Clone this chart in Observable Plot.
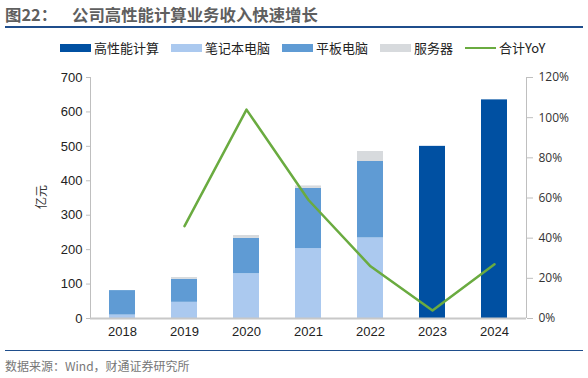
<!DOCTYPE html>
<html><head><meta charset="utf-8">
<script src="https://cdn.jsdelivr.net/npm/d3@7"></script>
<script src="https://cdn.jsdelivr.net/npm/@observablehq/plot@0.6"></script>
<style>
body{margin:0;background:#fff;font-family:"Liberation Sans","Noto Sans CJK SC",sans-serif;}
#wrap{position:relative;width:588px;height:378px;overflow:hidden;}
#title{position:absolute;left:5px;top:2px;font-family:"Noto Sans CJK SC",sans-serif;font-weight:bold;font-size:16.4px;color:#5f5f5f;white-space:nowrap;}
#title span.h{display:inline-block;width:67px;}
#tline{position:absolute;left:5px;top:26px;width:578px;height:2px;background:#1f4e8c;}
#legend{position:absolute;left:60px;top:38px;display:flex;align-items:center;font-family:"Noto Sans CJK SC",sans-serif;font-size:13px;color:#222;white-space:nowrap;}
#legend .it{display:flex;align-items:center;margin-right:12px;}
#legend .sw{width:31px;height:8px;margin-right:3px;}
#legend .ln{width:31px;height:2px;margin-right:3px;}
#chart{position:absolute;left:0;top:60px;}
#fline{position:absolute;left:5px;top:350px;width:578px;height:1px;background:#1f4e8c;}
#source{position:absolute;left:5px;top:357px;font-family:"Noto Sans CJK SC",sans-serif;font-size:12px;color:#777;white-space:nowrap;}
#ylab{position:absolute;left:29px;top:188px;transform:rotate(-90deg);font-family:"Noto Sans CJK SC",sans-serif;font-size:12px;line-height:18px;color:#333;}
</style></head>
<body>
<div id="wrap">
  <div id="title"><span class="h">图22：</span>公司高性能计算业务收入快速增长</div>
  <div id="tline"></div>
  <div id="legend"></div>
  <div id="chart"></div>
  <div id="ylab">亿元</div>
  <div id="fline"></div>
  <div id="source">数据来源：Wind，财通证券研究所</div>
</div>
<script>
const years = ["2018","2019","2020","2021","2022","2023","2024"];
const seriesNames = ["高性能计算","笔记本电脑","平板电脑","服务器"];
const hpc =      [0, 0, 0, 0, 0, 500, 635];
const laptop =   [10, 47, 130, 203, 234, 0, 0];
const tablet =   [71, 67, 103, 175, 222, 0, 0];
const server =   [0, 5, 8, 7, 29, 0, 0];
const yoyYears = ["2019","2020","2021","2022","2023","2024"];
const yoy =      [46, 104, 59, 26, 4, 27];
const leftTicks = [0,100,200,300,400,500,600,700];
const rightTicks = [0,20,40,60,80,100,120];
const colors = ["#0050a2","#abc9ef","#5f9bd4","#d7dadd"];
const lineColor = "#6aab40";
const yoyLabel = "合计YoY";

const yMax = 700, pMax = 120;
const seriesVals = [hpc, laptop, tablet, server];
const long = [];
seriesNames.forEach((s, si) => years.forEach((y, i) => {
  if (seriesVals[si][i] > 0) long.push({year: y, series: s, value: seriesVals[si][i]});
}));
const lineData = yoyYears.map((y, i) => ({year: y, v: yoy[i] * yMax / pMax}));

// legend
const lg = document.getElementById("legend");
seriesNames.forEach((s, i) => {
  const d = document.createElement("div"); d.className = "it";
  d.innerHTML = `<div class="sw" style="background:${colors[i]}"></div>${s}`;
  lg.appendChild(d);
});
{
  const d = document.createElement("div"); d.className = "it";
  d.innerHTML = `<div class="ln" style="background:${lineColor}"></div>${yoyLabel}`;
  lg.appendChild(d);
}

const edges = (index, scales, values, dim) => {
  const g = d3.create("svg:g").attr("stroke", "#bfbfbf").attr("stroke-width", 1);
  const x0 = dim.marginLeft, x1 = dim.width - dim.marginRight;
  const yT = dim.marginTop, yB = dim.height - dim.marginBottom;
  g.append("line").attr("x1", x0 + 0.5).attr("x2", x0 + 0.5).attr("y1", yT).attr("y2", yB);
  g.append("line").attr("x1", x1 + 0.5).attr("x2", x1 + 0.5).attr("y1", yT).attr("y2", yB);
  return g.node();
};

const chart = Plot.plot({
  width: 588, height: 285,
  marginLeft: 90, marginRight: 62, marginTop: 17, marginBottom: 27,
  style: {fontFamily: "Liberation Sans, sans-serif", fontSize: "13px", color: "#222", background: "transparent"},
  x: {domain: years, paddingInner: 0.58, paddingOuter: 0.29, label: null},
  y: {domain: [0, yMax], label: null},
  color: {domain: seriesNames, range: colors},
  marks: [
    edges,
    Plot.barY(long, {x: "year", y: "value", fill: "series", order: seriesNames}),
    Plot.ruleY([0], {stroke: "#c8c8c8", strokeWidth: 2}),
    Plot.line(lineData, {x: "year", y: "v", stroke: lineColor, strokeWidth: 2.5}),
    Plot.axisY(leftTicks, {anchor: "left", tickSize: 4, tickPadding: 4, stroke: "#bfbfbf", fill: "#222", fontSize: 13, label: null}),
    Plot.axisY(rightTicks.map(p => p * yMax / pMax), {anchor: "right", tickSize: 6, tickPadding: 6, stroke: "#bfbfbf", fill: "#333", fontSize: 12, fontFamily: "Open Sans, sans-serif", tickFormat: d => Math.round(d * pMax / yMax) + "%", label: null}),
    Plot.axisX({tickSize: 0, tickPadding: 8, fontSize: 13, fill: "#222", label: null})
  ]
});
document.getElementById("chart").appendChild(chart);
</script>
</body></html>
